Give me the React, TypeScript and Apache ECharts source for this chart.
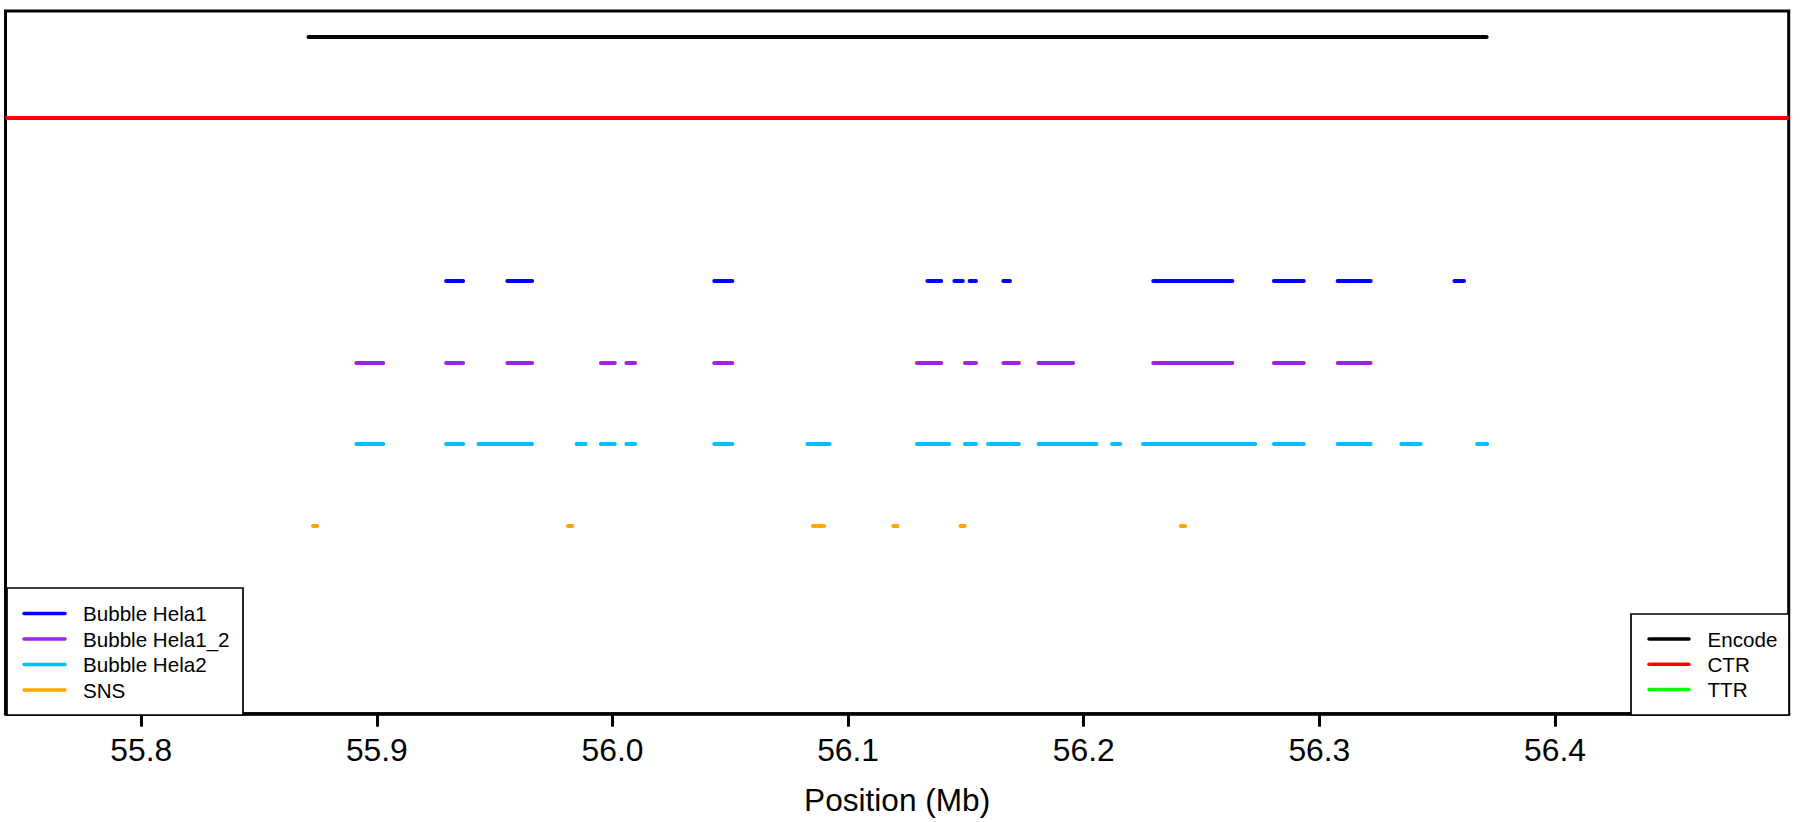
import React, { useEffect, useRef } from "react";
import * as echarts from "echarts";

// ---- data (positions in Mb) ----
const X_TICKS = [55.8, 55.9, 56.0, 56.1, 56.2, 56.3, 56.4];
const X_MIN = 55.7424;
const X_MAX = 56.4992;

const ROW_SNS = 1;
const ROW_HELA2 = 2;
const ROW_HELA1_2 = 3;
const ROW_HELA1 = 4;
const ROW_CTR = 6;
const ROW_ENCODE = 7;

const ENCODE = [[55.871, 56.371]];

const HELA1 = [
  [55.9294, 55.9366], [55.9554, 55.9659], [56.0432, 56.0509], [56.1337, 56.1395],
  [56.1451, 56.1487], [56.1516, 56.1543], [56.1659, 56.1687], [56.2295, 56.2474],
  [56.2474, 56.2563], [56.2563, 56.2631], [56.2807, 56.2934], [56.3078, 56.3218],
  [56.3573, 56.3614],
];

const HELA1_2 = [
  [55.8913, 55.9027], [55.9294, 55.9366], [55.9554, 55.9659], [55.9951, 56.001],
  [56.0059, 56.0096], [56.0432, 56.0509], [56.1292, 56.133], [56.133, 56.1395],
  [56.1496, 56.1543], [56.1659, 56.1689], [56.1689, 56.1725], [56.1808, 56.1955],
  [56.2295, 56.2474], [56.2474, 56.2563], [56.2563, 56.2631], [56.2807, 56.2934],
  [56.3078, 56.3218],
];

const HELA2 = [
  [55.8913, 55.9027], [55.9294, 55.9366], [55.9431, 55.9545], [55.9545, 55.9659],
  [55.9848, 55.9886], [55.9951, 56.001], [56.0059, 56.0096], [56.0432, 56.0509],
  [56.0827, 56.0922], [56.1292, 56.133], [56.133, 56.1397], [56.1397, 56.1429],
  [56.1496, 56.1543], [56.1594, 56.1636], [56.1636, 56.1689], [56.1689, 56.1725],
  [56.1808, 56.1955], [56.1955, 56.2054], [56.212, 56.2155], [56.2252, 56.2292],
  [56.2292, 56.2474], [56.2474, 56.2563], [56.2563, 56.2631], [56.2631, 56.2728],
  [56.2807, 56.2934], [56.3078, 56.3218], [56.3348, 56.343], [56.367, 56.3712],
];

const SNS = [55.8738, 55.982, 56.086, 56.0889, 56.1201, 56.1486, 56.2421];
const SNS_HALF = 0.0009;

const LEFT_LEGEND = [
  { name: "Bubble Hela1", color: "#0000FF" },
  { name: "Bubble Hela1_2", color: "#A020F0" },
  { name: "Bubble Hela2", color: "#00BFFF" },
  { name: "SNS", color: "#FFA500" },
];
const RIGHT_LEGEND = [
  { name: "Encode", color: "#000000" },
  { name: "CTR", color: "#FF0000" },
  { name: "TTR", color: "#00FF00" },
];

const FONT = "'Liberation Sans', Arial, Helvetica, sans-serif";

function segSeries(name: string, segs: number[][], y: number, color: string) {
  return {
    name,
    type: "lines",
    coordinateSystem: "cartesian2d",
    polyline: false,
    silent: true,
    lineStyle: { color, width: 4, cap: "round", opacity: 1 },
    data: segs.map((s) => ({ coords: [[s[0], y], [s[1], y]] })),
    z: 3,
  };
}

export default function App() {
  const ref = useRef<HTMLDivElement>(null);

  useEffect(() => {
    if (!ref.current) return;
    const chart = echarts.init(ref.current, undefined, { renderer: "svg" });

    const graphics: any[] = [];
    // left legend
    const lx = 7, ly = 588, lw = 236, lh = 127;
    graphics.push({
      type: "rect",
      shape: { x: lx, y: ly, width: lw, height: lh },
      style: { fill: "#fff", stroke: "#000", lineWidth: 1.7 },
      z: 10,
    });
    LEFT_LEGEND.forEach((it, i) => {
      const yy = 613.5 + i * 25.5;
      graphics.push({
        type: "line",
        shape: { x1: 24, y1: yy, x2: 65, y2: yy },
        style: { stroke: it.color, lineWidth: 3.5, lineCap: "round" },
        z: 11,
      });
      graphics.push({
        type: "text",
        x: 83,
        y: yy,
        style: { text: it.name, fontSize: 20.6, fontFamily: FONT, fill: "#000", verticalAlign: "middle", align: "left" },
        z: 11,
      });
    });
    // right legend
    const rx = 1631, ry = 614, rw = 158, rh = 101;
    graphics.push({
      type: "rect",
      shape: { x: rx, y: ry, width: rw, height: rh },
      style: { fill: "#fff", stroke: "#000", lineWidth: 1.7 },
      z: 10,
    });
    RIGHT_LEGEND.forEach((it, i) => {
      const yy = 639 + i * 25.2;
      graphics.push({
        type: "line",
        shape: { x1: 1649, y1: yy, x2: 1689, y2: yy },
        style: { stroke: it.color, lineWidth: 3.5, lineCap: "round" },
        z: 11,
      });
      graphics.push({
        type: "text",
        x: 1707.5,
        y: yy,
        style: { text: it.name, fontSize: 20.6, fontFamily: FONT, fill: "#000", verticalAlign: "middle", align: "left" },
        z: 11,
      });
    });

    const option: any = {
      animation: false,
      backgroundColor: "#fff",
      grid: {
        left: 5.5,
        top: 11,
        right: 13.3,
        bottom: 108.3,
        show: true,
        borderColor: "#000",
        borderWidth: 3,
        backgroundColor: "transparent",
        containLabel: false,
        outerBoundsMode: "none",
        z: 5,
      },
      xAxis: {
        type: "value",
        min: X_MIN,
        max: X_MAX,
        name: "Position (Mb)",
        nameLocation: "middle",
        nameGap: 70,
        nameTextStyle: { fontSize: 31.6, fontFamily: FONT, color: "#000" },
        splitLine: { show: false },
        axisLine: { show: true, onZero: false, lineStyle: { color: "#000", width: 3.5 } },
        axisTick: {
          show: true,
          length: 13,
          customValues: X_TICKS,
          lineStyle: { color: "#000", width: 3 },
        },
        axisLabel: {
          customValues: X_TICKS,
          formatter: (v: number) => v.toFixed(1),
          fontSize: 31.8,
          fontFamily: FONT,
          color: "#000",
          margin: 20,
          showMinLabel: true,
          showMaxLabel: true,
        },
      },
      yAxis: {
        type: "value",
        min: -1.31,
        max: 7.31,
        show: false,
        splitLine: { show: false },
      },
      series: [
        segSeries("Encode", ENCODE, ROW_ENCODE, "#000000"),
        {
          name: "CTR",
          type: "line",
          data: [],
          silent: true,
          markLine: {
            silent: true,
            symbol: ["none", "none"],
            label: { show: false },
            lineStyle: { color: "#FF0000", width: 4, type: "solid" },
            data: [{ yAxis: ROW_CTR }],
            animation: false,
          },
          z: 3,
        },
        { name: "TTR", type: "line", data: [], lineStyle: { color: "#00FF00" } },
        segSeries("Bubble Hela1", HELA1, ROW_HELA1, "#0000FF"),
        segSeries("Bubble Hela1_2", HELA1_2, ROW_HELA1_2, "#A020F0"),
        segSeries("Bubble Hela2", HELA2, ROW_HELA2, "#00BFFF"),
        segSeries(
          "SNS",
          SNS.map((p) => [p - SNS_HALF, p + SNS_HALF]),
          ROW_SNS,
          "#FFA500"
        ),
      ],
      graphic: graphics,
    };

    chart.setOption(option);
    return () => chart.dispose();
  }, []);

  return (
    <div
      ref={ref}
      style={{ position: "absolute", left: 0, top: 0, width: 1802, height: 822 }}
    />
  );
}
